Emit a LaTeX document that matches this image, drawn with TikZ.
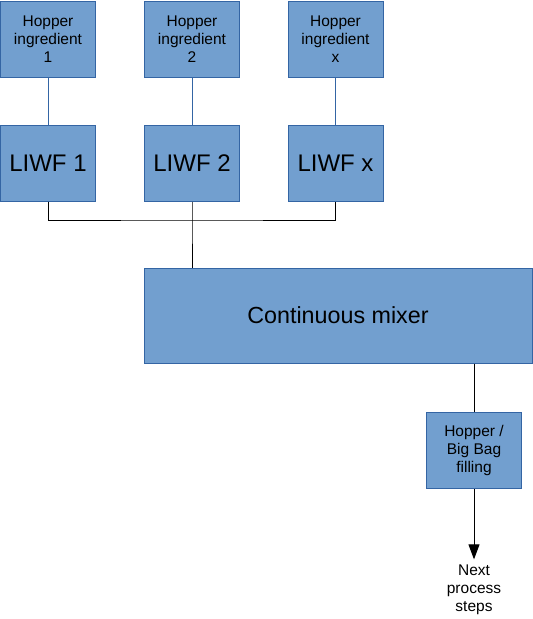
\documentclass[tikz,border=0pt]{standalone}
\usepackage{fontspec}
\setmainfont{Liberation Sans}
\usetikzlibrary{arrows.meta}

\definecolor{boxfill}{HTML}{729FCF}
\definecolor{boxline}{HTML}{3465A4}

\begin{document}
\begin{tikzpicture}[x=1pt,y=-1pt,>={Triangle[length=15pt,width=11pt]},
        unitbox/.style={draw=boxline,fill=boxfill,line width=1pt,
            inner sep=0pt,align=center,text=black},
        hopperbox/.style={unitbox,minimum width=95pt,minimum height=76pt,
            font=\fontsize{15.5}{18}\selectfont},
        feederbox/.style={unitbox,minimum width=95pt,minimum height=76pt,
            font=\fontsize{24}{28}\selectfont},
        feedline/.style={draw=boxline,line width=1pt},
        flowline/.style={draw=black,line width=1pt}]
        \useasboundingbox (0,0) rectangle (533,619);

        % Ingredient hoppers and their loss-in-weight feeders.
        \node[hopperbox] (hop1) at (48,39) {Hopper\\ingredient\\1};
        \node[hopperbox] (hop2) at (192,39) {Hopper\\ingredient\\2};
        \node[hopperbox] (hopx) at (335.5,39) {Hopper\\ingredient\\x};
        \node[feederbox] (liwf1) at (48,163) {LIWF 1};
        \node[feederbox] (liwf2) at (192,163) {LIWF 2};
        \node[feederbox] (liwfx) at (335.5,163) {LIWF x};

        % Mixer and discharge.
        \node[unitbox,minimum width=388pt,minimum height=95pt,
            font=\fontsize{23.3}{28}\selectfont] (mixer) at (338,315.5)
            {Continuous mixer};
        \node[hopperbox] (bag) at (474,450.5) {Hopper /\\Big Bag\\filling};
        \node[align=center,inner sep=0pt,font=\fontsize{15.5}{18}\selectfont]
            (next) at (474,589.5) {Next\\process\\steps};

        \draw[feedline] (hop1) -- (liwf1);
        \draw[feedline] (hop2) -- (liwf2);
        \draw[feedline] (hopx) -- (liwfx);

        \coordinate (merge) at (192,220);
        \draw[flowline] (liwf1.south) |- (merge) -| (liwfx.south);
        \draw[flowline] (liwf2.south) -- (merge) -- (merge |- mixer.north);
        \draw[flowline] (bag.north |- mixer.south) -- (bag.north);
        \draw[flowline,->] (bag.south) -- ([yshift=5pt]next.north);
    \end{tikzpicture}
\end{document}
